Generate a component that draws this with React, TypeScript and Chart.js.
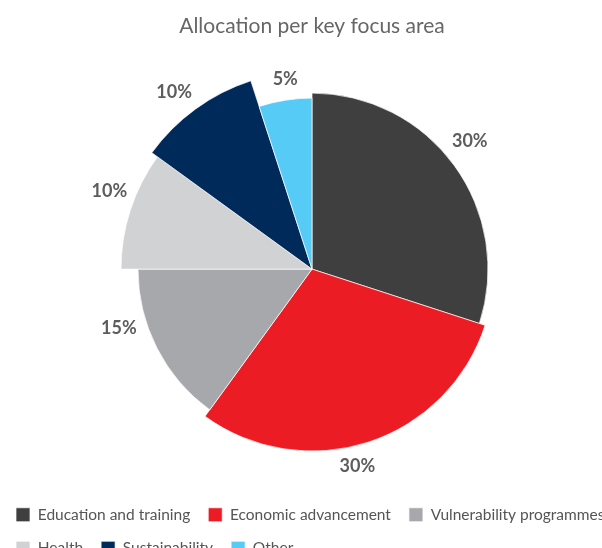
import React, { useEffect, useRef } from "react";
import { Chart, registerables } from "chart.js";

Chart.register(...registerables);

const titleText = "Allocation per key focus area";
const categories = [
  "Education and training",
  "Economic advancement",
  "Vulnerability programmes",
  "Health",
  "Sustainability",
  "Other",
];
const shares = [30, 30, 15, 10, 10, 5];

// styles
const sliceColors = ["#3f3f3f", "#ec1c24", "#a7a8ab", "#d1d2d4", "#002a5a", "#56cbf5"];
const sliceRadius = [176, 182, 174, 191, 198, 171];
const labelGap = [27, 20, 28, 26, 26, 21];
const labelAngleShift = [-3, 5, 10, 3, -2, 1];

const FONT = "Lato, 'Open Sans', sans-serif";

const radiusPlugin = {
  id: "varRadius",
  afterLayout(chart: any) {
    // let the legend rows run to the canvas edge (the reference clips the last item)
    if (chart.legend) chart.legend.right = chart.width + 40;
  },
  beforeDatasetsDraw(chart: any) {
    const meta = chart.getDatasetMeta(0);
    meta.data.forEach((arc: any, i: number) => {
      arc.outerRadius = sliceRadius[i];
    });
  },
};

const labelPlugin = {
  id: "pctLabels",
  afterDatasetsDraw(chart: any) {
    const { ctx } = chart;
    const meta = chart.getDatasetMeta(0);
    ctx.save();
    ctx.font = `bold 18px ${FONT}`;
    ctx.fillStyle = "#5d5d5d";
    ctx.textAlign = "center";
    ctx.textBaseline = "middle";
    meta.data.forEach((arc: any, i: number) => {
      const mid = (arc.startAngle + arc.endAngle) / 2 + (labelAngleShift[i] * Math.PI) / 180;
      const r = arc.outerRadius + labelGap[i];
      const x = arc.x + Math.cos(mid) * r;
      const y = arc.y + Math.sin(mid) * r;
      ctx.fillText(shares[i] + "%", x, y);
    });
    ctx.restore();
  },
};

export default function App() {
  const ref = useRef<HTMLCanvasElement>(null);
  useEffect(() => {
    const chart = new Chart(ref.current!, {
      type: "pie",
      data: {
        labels: categories,
        datasets: [
          {
            data: shares,
            backgroundColor: sliceColors,
            borderColor: "rgba(255,255,255,0.7)",
            borderWidth: 1,
          },
        ],
      },
      options: {
        responsive: false,
        animation: false,
        radius: 198,
        layout: { padding: 0 },
        plugins: {
          title: {
            display: true,
            text: titleText,
            color: "#666666",
            font: { family: FONT, size: 21, weight: "normal" },
            padding: { top: 14, bottom: 10 },
          },
          legend: {
            position: "bottom",
            align: "start",
            labels: {
              boxWidth: 14,
              boxHeight: 14,
              padding: 18,
              color: "#555555",
              font: { family: FONT, size: 15.5 },
            },
          },
          tooltip: { enabled: false },
        },
      },
      plugins: [radiusPlugin, labelPlugin],
    });
    return () => chart.destroy();
  }, []);
  return (
    <div style={{ position: "fixed", left: 0, top: 0, width: 602, height: 548, overflow: "hidden", background: "#fff" }}>
      <canvas ref={ref} width={628} height={566} style={{ display: "block", marginLeft: -2 }} />
    </div>
  );
}
